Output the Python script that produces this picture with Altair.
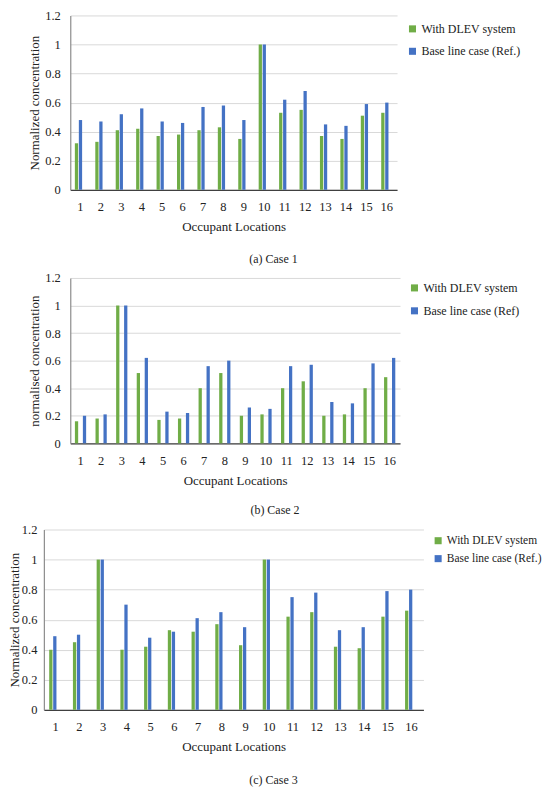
import altair as alt
import pandas as pd

FONT = "Liberation Serif"
GREEN = "#70AD47"
BLUE = "#4472C4"

locations = [1, 2, 3, 4, 5, 6, 7, 8, 9, 10, 11, 12, 13, 14, 15, 16]
y_ticks = [0, 0.2, 0.4, 0.6, 0.8, 1.0, 1.2]

case1_dlev = [0.32, 0.33, 0.41, 0.42, 0.37, 0.38, 0.41, 0.43, 0.35, 1.0, 0.53, 0.55, 0.37, 0.35, 0.51, 0.53]
case1_base = [0.48, 0.47, 0.52, 0.56, 0.47, 0.46, 0.57, 0.58, 0.48, 1.0, 0.62, 0.68, 0.45, 0.44, 0.59, 0.60]

case2_dlev = [0.16, 0.18, 1.0, 0.51, 0.17, 0.18, 0.40, 0.51, 0.20, 0.21, 0.40, 0.45, 0.20, 0.21, 0.40, 0.48]
case2_base = [0.20, 0.21, 1.0, 0.62, 0.23, 0.22, 0.56, 0.60, 0.26, 0.25, 0.56, 0.57, 0.30, 0.29, 0.58, 0.62]

case3_dlev = [0.40, 0.45, 1.0, 0.40, 0.42, 0.53, 0.52, 0.57, 0.43, 1.0, 0.62, 0.65, 0.42, 0.41, 0.62, 0.66]
case3_base = [0.49, 0.50, 1.0, 0.70, 0.48, 0.52, 0.61, 0.65, 0.55, 1.0, 0.75, 0.78, 0.53, 0.55, 0.79, 0.80]

names1 = ["With DLEV system", "Base line case (Ref.)"]
names2 = ["With DLEV system", "Base line case (Ref)"]
names3 = ["With DLEV system", "Base line case (Ref.)"]


def panel(dlev, base, names, ytitle, caption, w, h, ylabel_pad, ytitle_pad,
          row_pad, cap_offset, leg_x, leg_y, leg_font):
    df = pd.DataFrame({
        "loc": locations + locations,
        "series": [names[0]] * len(locations) + [names[1]] * len(locations),
        "value": dlev + base,
    })
    return alt.Chart(df).mark_bar().encode(
        x=alt.X("loc:O", title="Occupant Locations",
                scale=alt.Scale(paddingInner=0.45, paddingOuter=0.225),
                axis=alt.Axis(labelAngle=0, labelPadding=11, titlePadding=7.5,
                              domainColor="#404040", domainWidth=1.3,
                              ticks=False, tickSize=0, grid=False)),
        xOffset=alt.XOffset("series:N", sort=names,
                            scale=alt.Scale(paddingInner=0.18, paddingOuter=0)),
        y=alt.Y("value:Q", title=ytitle,
                scale=alt.Scale(domain=[0, 1.2], nice=False),
                axis=alt.Axis(values=y_ticks, format="~g",
                              labelPadding=ylabel_pad, titlePadding=ytitle_pad,
                              domainColor="#8c8c8c", domainWidth=1.2,
                              ticks=False, tickSize=0,
                              gridColor="#D9D9D9", gridWidth=1)),
        color=alt.Color("series:N", sort=names,
                        scale=alt.Scale(domain=names, range=[GREEN, BLUE]),
                        legend=alt.Legend(title=None, orient="none",
                                          legendX=leg_x, legendY=leg_y,
                                          padding=0, rowPadding=row_pad,
                                          labelOffset=3,
                                          symbolType="square", symbolSize=50,
                                          symbolStrokeWidth=0,
                                          labelFont=FONT, labelFontSize=leg_font,
                                          labelColor="#222")),
    ).properties(
        width=w, height=h,
        title=alt.TitleParams(caption, orient="bottom", anchor="middle",
                              frame="group", dx=40, offset=cap_offset,
                              font=FONT, fontSize=12, fontWeight="normal",
                              color="#222"),
    )


def spacer(w):
    return alt.Chart(pd.DataFrame({"s": [0]})).mark_point(opacity=0).properties(
        width=w, height=10)


# legend of panels 1-2 lives in the wrapping hconcat group
p1 = panel(case1_dlev, case1_base, names1, "Normalized concentration",
           "(a) Case 1", 328, 175, 10, 3, 10.5, 20, 364, 7.5, 12)
p2 = panel(case2_dlev, case2_base, names2, "normalised concentration",
           "(b) Case 2", 331, 166, 10, 3, 11, 18, 366, 4, 12)
p3 = panel(case3_dlev, case3_base, names3, "Normalized concentration",
           "(c) Case 3", 381, 181, 7, 0, 5, 21, 390, 5.5, 11.5)

chart = alt.concat(
    alt.hconcat(spacer(1), p1, spacing=-19.5),
    alt.hconcat(spacer(1), p2, spacing=-19.5),
    p3,
    columns=1, align="none", spacing=7.5,
).resolve_scale(color="independent").properties(padding=0).configure_view(
    strokeWidth=0
).configure_axis(
    labelFont=FONT, titleFont=FONT, labelFontSize=12.5, titleFontSize=13,
    titleFontWeight="normal", labelColor="#222", titleColor="#222",
)

chart.save("out.html", embed_options={"renderer": "svg", "actions": False})
